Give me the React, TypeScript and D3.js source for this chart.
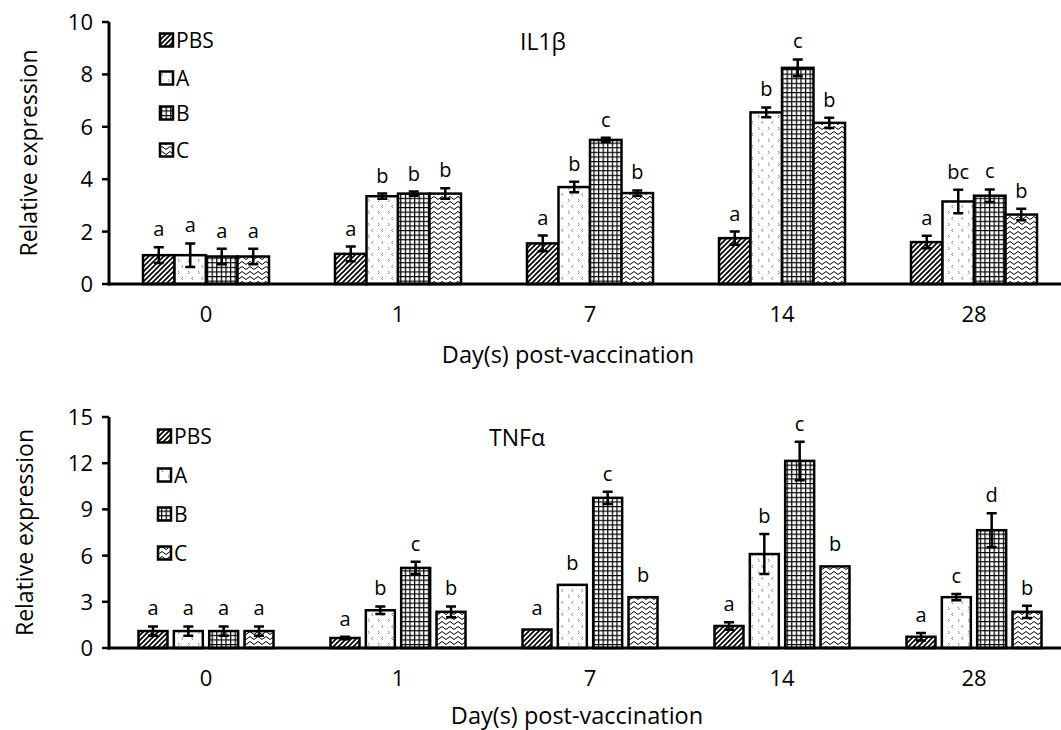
import React from 'react';
import * as d3 from 'd3';

// days post vaccination and groups
const days = ['0', '1', '7', '14', '28'];
const groups = ['PBS', 'A', 'B', 'C'];

// IL1β relative expression (mean, sem, letters) per group across days
const il1bPBS = [1.1, 1.15, 1.55, 1.75, 1.6];
const il1bA = [1.1, 3.35, 3.7, 6.55, 3.15];
const il1bB = [1.05, 3.45, 5.5, 8.25, 3.37];
const il1bC = [1.05, 3.45, 3.47, 6.15, 2.65];
const il1bErrPBS = [0.3, 0.28, 0.3, 0.25, 0.24];
const il1bErrA = [0.45, 0.1, 0.2, 0.19, 0.45];
const il1bErrB = [0.3, 0.08, 0.08, 0.32, 0.24];
const il1bErrC = [0.3, 0.2, 0.1, 0.2, 0.22];
const il1bLetPBS = ['a', 'a', 'a', 'a', 'a'];
const il1bLetA = ['a', 'b', 'b', 'b', 'bc'];
const il1bLetB = ['a', 'b', 'c', 'c', 'c'];
const il1bLetC = ['a', 'b', 'b', 'b', 'b'];
const il1bTicks = [0, 2, 4, 6, 8, 10];

// TNFα
const tnfPBS = [1.1, 0.65, 1.2, 1.43, 0.73];
const tnfA = [1.1, 2.45, 4.1, 6.1, 3.3];
const tnfB = [1.1, 5.2, 9.75, 12.15, 7.65];
const tnfC = [1.1, 2.35, 3.3, 5.3, 2.35];
const tnfErrPBS = [0.3, 0.08, 0, 0.25, 0.25];
const tnfErrA = [0.3, 0.25, 0, 1.3, 0.2];
const tnfErrB = [0.3, 0.4, 0.4, 1.25, 1.1];
const tnfErrC = [0.3, 0.35, 0, 0, 0.4];
const tnfLetPBS = ['a', 'a', 'a', 'a', 'a'];
const tnfLetA = ['a', 'b', 'b', 'b', 'c'];
const tnfLetB = ['a', 'c', 'c', 'c', 'd'];
const tnfLetC = ['a', 'b', 'b', 'b', 'b'];
const tnfTicks = [0, 3, 6, 9, 12, 15];

const FONT = '"Open Sans", sans-serif';
const fills = ['url(#pHatch)', 'url(#pDots)', 'url(#pGrid)', 'url(#pWave)'];

const Patterns = () => (
  <defs>
    <pattern id="pHatch" patternUnits="userSpaceOnUse" width="5" height="5">
      <rect width="5" height="5" fill="#fff" />
      <path d="M-1,1 l2,-2 M0,5 l5,-5 M4,6 l2,-2" stroke="#000" strokeWidth="1.7" />
    </pattern>
    <pattern id="pDots" patternUnits="userSpaceOnUse" width="10" height="12">
      <rect width="10" height="12" fill="#fff" />
      <path d="M3,1 l-1.5,1.5 l1.5,1.5 M8,7 l1.5,1.5 l-1.5,1.5" stroke="#777" strokeWidth="0.8" fill="none" />
    </pattern>
    <pattern id="pGrid" patternUnits="userSpaceOnUse" width="4.6" height="4.6">
      <rect width="4.6" height="4.6" fill="#fff" />
      <path d="M0,0.6 H4.6 M0.6,0 V4.6" stroke="#000" strokeWidth="1.2" />
    </pattern>
    <pattern id="pWave" patternUnits="userSpaceOnUse" width="8" height="5">
      <rect width="8" height="5" fill="#fff" />
      <path d="M0,3 q2,-3 4,0 t4,0" stroke="#000" strokeWidth="1" fill="none" />
    </pattern>
  </defs>
);

type PanelProps = {
  title: string; titleX: number; titleY: number;
  series: number[][]; errs: number[][]; letters: string[][];
  ticks: number[]; top: number; bottom: number;
  groupWidth: number; barPad: number;
  tickLabelY: number; axisTitleX: number; axisTitleY: number; yTitleX: number;
  legendX: number; legendY: number[];
};

const Panel = (p: PanelProps) => {
  const x = d3.scaleBand().domain(days).range([110, 1070]);
  const xi = d3.scaleBand().domain(groups)
    .range([-p.groupWidth / 2, p.groupWidth / 2]).paddingInner(p.barPad);
  const y = d3.scaleLinear().domain([0, d3.max(p.ticks)!]).range([p.bottom, p.top]);
  const bw = xi.bandwidth();

  return (
    <g fontFamily={FONT} fill="#000">
      {days.map((d, di) => groups.map((g, gi) => {
        const v = p.series[gi][di], e = p.errs[gi][di];
        const cx = x(d)! + x.bandwidth() / 2 + xi(g)!;
        return (
          <g key={d + g}>
            <rect x={cx} y={y(v)} width={bw} height={p.bottom - y(v)}
              fill={fills[gi]} stroke="#000" strokeWidth={2.5} />
            {e > 0 && (
              <path d={`M${cx + bw / 2 - 5},${y(v + e)}h10M${cx + bw / 2},${y(v + e)}V${y(v - e)}M${cx + bw / 2 - 5},${y(v - e)}h10`}
                stroke="#000" strokeWidth={2.5} fill="none" />
            )}
            <text x={cx + bw / 2} y={y(v + e) - (e > 0 ? 11 : 15)} textAnchor="middle" fontSize={20}>
              {p.letters[gi][di]}
            </text>
          </g>
        );
      }))}
      {/* axes */}
      <line x1={108} x2={1061} y1={p.bottom} y2={p.bottom} stroke="#000" strokeWidth={3} />
      <line x1={109} x2={109} y1={p.top} y2={p.bottom + 1.5} stroke="#000" strokeWidth={3} />
      {p.ticks.map(t => (
        <g key={t}>
          <line x1={102} x2={109} y1={y(t)} y2={y(t)} stroke="#000" strokeWidth={2.5} />
          <text x={93} y={y(t)} dy="0.36em" textAnchor="end" fontSize={22}>{t}</text>
        </g>
      ))}
      {days.map(d => (
        <text key={d} x={x(d)! + x.bandwidth() / 2} y={p.tickLabelY} textAnchor="middle" fontSize={22}>{d}</text>
      ))}
      <text x={p.axisTitleX} y={p.axisTitleY} textAnchor="middle" fontSize={23.5}>Day(s) post-vaccination</text>
      <text transform={`translate(${p.yTitleX},${(p.top + p.bottom) / 2}) rotate(-90)`}
        textAnchor="middle" fontSize={23}>Relative expression</text>
      <text x={p.titleX} y={p.titleY} textAnchor="middle" fontSize={23}>{p.title}</text>
      {groups.map((g, gi) => (
        <g key={g}>
          <rect x={p.legendX} y={p.legendY[gi] - 6.5} width={13} height={13}
            fill={fills[gi]} stroke="#000" strokeWidth={2.5} />
          <text x={p.legendX + 16} y={p.legendY[gi]} dy="0.36em" fontSize={21}>{g}</text>
        </g>
      ))}
    </g>
  );
};

export default function App() {
  return (
    <svg width={1061} height={730} style={{ position: 'absolute', left: 0, top: 0, background: '#fff' }}>
      <Patterns />
      <rect width={1061} height={730} fill="#fff" />
      <Panel title="IL1β" titleX={543} titleY={50}
        series={[il1bPBS, il1bA, il1bB, il1bC]}
        errs={[il1bErrPBS, il1bErrA, il1bErrB, il1bErrC]}
        letters={[il1bLetPBS, il1bLetA, il1bLetB, il1bLetC]}
        ticks={il1bTicks} top={22} bottom={284}
        groupWidth={126} barPad={0}
        tickLabelY={322} axisTitleX={568} axisTitleY={363} yTitleX={37}
        legendX={160} legendY={[40, 78, 113, 150]} />
      <Panel title="TNFα" titleX={517} titleY={446}
        series={[tnfPBS, tnfA, tnfB, tnfC]}
        errs={[tnfErrPBS, tnfErrA, tnfErrB, tnfErrC]}
        letters={[tnfLetPBS, tnfLetA, tnfLetB, tnfLetC]}
        ticks={tnfTicks} top={417} bottom={648}
        groupWidth={135} barPad={0.18}
        tickLabelY={686} axisTitleX={577} axisTitleY={724} yTitleX={33}
        legendX={158} legendY={[436, 475, 514, 553]} />
    </svg>
  );
}
